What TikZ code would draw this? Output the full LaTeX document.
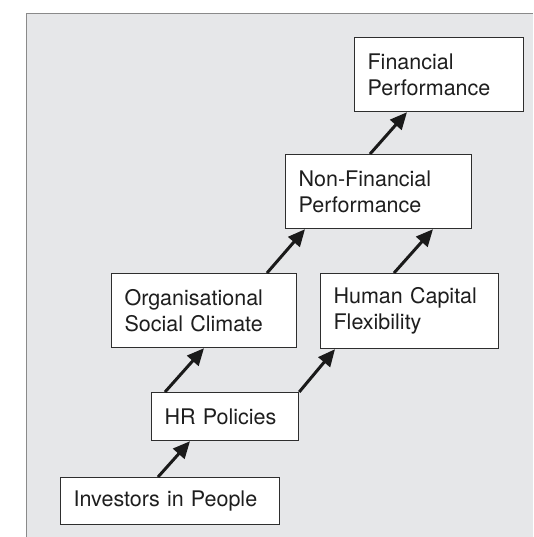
\documentclass[tikz,border=0pt]{standalone}
\usepackage{fontspec}
\setmainfont{TeX Gyre Heros}
\usetikzlibrary{arrows.meta,calc}

\definecolor{panelgray}{HTML}{E6E7E9}
\definecolor{frameline}{HTML}{8A8A8A}
\definecolor{boxline}{HTML}{2E2E2E}
\definecolor{inktext}{HTML}{1E1E1E}
\definecolor{arrowink}{HTML}{1A1A1A}

\begin{document}
\begin{tikzpicture}[x=1pt,y=-1pt,
	box/.style={draw=boxline, line width=1.2pt, fill=white, text=inktext,
		anchor=north west, align=left, inner xsep=13pt, inner ysep=0pt,
		font=\fontsize{21.5}{26}\selectfont},
	link/.style={draw=arrowink, line width=3pt, -{Triangle[length=17pt,width=15pt]}}]
	\useasboundingbox (0,0) rectangle (533,537);

	% grey panel, open at the right and the bottom
	\fill[panelgray] (26.5,13.5) rectangle (533,537);
	\draw[frameline, line width=1.5pt] (26.5,537)--(26.5,13.5)--(533,13.5);

	% the boxes, bottom to top
	\node[box, text width=193pt, minimum height=47pt] (inv) at (60,477) {Investors in People};
	\node[box, text width=121pt, minimum height=48pt] (hr) at (151,392) {HR Policies};
	\node[box, text width=159pt, minimum height=74pt] (osc) at (111,273) {Organisational\\Social Climate};
	\node[box, text width=152pt, minimum height=75pt] (hcf) at (320,273) {Human Capital\\Flexibility};
	\node[box, text width=160pt, minimum height=74pt] (nfp) at (285,154) {Non-Financial\\Performance};
	\node[box, text width=143pt, minimum height=74pt] (fp) at (354,37) {Financial\\Performance};

	% links between them
	\draw[link] ($(inv.north west)+(98,0)$) -- ($(hr.south west)+(39,0)$);
	\draw[link] ($(hr.north west)+(14,0)$) -- ($(osc.south west)+(93,0)$);
	\draw[link] (hr.north east) -- ($(hcf.south west)+(15,0)$);
	\draw[link] ($(osc.north west)+(156,0)$) -- ($(nfp.south west)+(20,0)$);
	\draw[link] ($(hcf.north west)+(74,0)$) -- ($(nfp.south west)+(148,0)$);
	\draw[link] ($(nfp.north west)+(85,0)$) -- ($(fp.south west)+(53,0)$);
\end{tikzpicture}
\end{document}
